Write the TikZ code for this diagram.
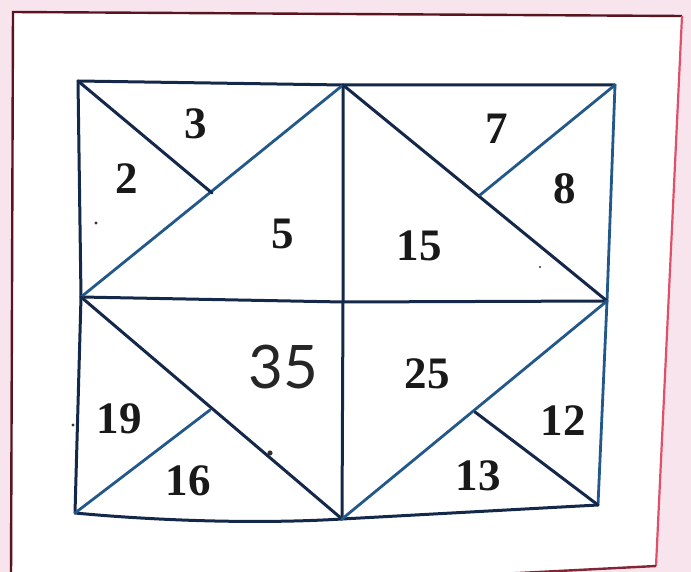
\documentclass[tikz,border=0pt]{standalone}
\usepackage{fontspec}
\setmainfont{Liberation Serif}
\newfontfamily\handfont{Lato}
\definecolor{pagebg}{HTML}{F7E4EC}
\definecolor{frameline}{HTML}{5A1420}
\definecolor{framered}{HTML}{E0506A}
\definecolor{dk}{HTML}{14284A}
\definecolor{bl}{HTML}{22598A}
\begin{document}
\begin{tikzpicture}[x=1pt,y=-1pt,
  edge/.style={draw=dk,line width=3pt,line cap=round,line join=round},
  edgeb/.style={draw=bl,line width=2.8pt,line cap=round,line join=round},
  num/.style={font=\fontsize{45}{45}\selectfont\bfseries,text=black!90,inner sep=0pt},
  hand/.style={font=\handfont\fontsize{60}{60}\selectfont,text=black!85,inner sep=0pt},
  speck/.style={fill=black!80,draw=none}]
\useasboundingbox (0,0) rectangle (691,572);
\fill[pagebg] (0,0) rectangle (691,572);
% page frame
\coordinate (f1) at (13,12);
\coordinate (f2) at (682,16);
\coordinate (f3) at (656,566);
\coordinate (f4) at (480,575);
\coordinate (f5) at (11,580);
\fill[white] (f1) -- (f2) -- (f3) -- (f4) -- (f5) -- cycle;
\draw[frameline,line width=2.4pt] (f5) -- (f1) -- (f2);
\draw[framered,line width=2.2pt] (f2) -- (f3);
\draw[frameline!70!framered,line width=2.4pt] (f3) -- (f4);
% vertices
\coordinate (tl) at (78,81);
\coordinate (tm) at (343,85);
\coordinate (tr) at (615,85);
\coordinate (ml) at (81,297);
\coordinate (c)  at (343,302);
\coordinate (mr) at (607,301);
\coordinate (bl) at (75,513);
\coordinate (bm) at (342,519);
\coordinate (br) at (598,505);
\coordinate (j1) at (212,193);
\coordinate (j2) at (480,195);
\coordinate (j3) at (210,410);
\coordinate (j4) at (475,412);
% outline
\draw[edge] (tl) -- (tm) -- (tr);
\draw[edge] (tl) -- (ml) -- (bl);
\draw[edgeb] (tr) -- (mr) -- (br);
\draw[edge] (bl) .. controls (160,521) and (260,524) .. (bm) -- (br);
% inner lines
\draw[edge] (ml) -- (c) -- (mr);
\draw[edge] (tm) -- (c) -- (bm);
\draw[edgeb] (ml) -- (tm);
\draw[edge] (tm) -- (mr);
\draw[edge] (tl) -- (j1);
\draw[edgeb] (tr) -- (j2);
\draw[edge] (ml) -- (bm);
\draw[edgeb] (mr) -- (bm);
\draw[edgeb] (bl) -- (j3);
\draw[edge] (br) -- (j4);
% labels
\node[num] (n3)  at (196,124) {3};
\node[num] (n2)  at (127,179) {2};
\node[num] (n5)  at (283,234) {5};
\node[num] (n7)  at (497,129) {7};
\node[num] (n8)  at (565,189) {8};
\node[num] (n15) at (419,246) {15};
\node[hand] (n35) at (283,367) {35};
\node[num] (n19) at (119,419) {19};
\node[num] (n16) at (188,481) {16};
\node[num] (n25) at (427,374) {25};
\node[num] (n12) at (563,421) {12};
\node[num] (n13) at (478,476) {13};
% specks
\fill[speck] (96,223) circle (1.6pt);
\fill[speck] (540,267) circle (1.1pt);
\fill[speck] (73,425) circle (1.6pt);
\fill[speck] (270,453) circle (2.6pt);
\end{tikzpicture}
\end{document}
